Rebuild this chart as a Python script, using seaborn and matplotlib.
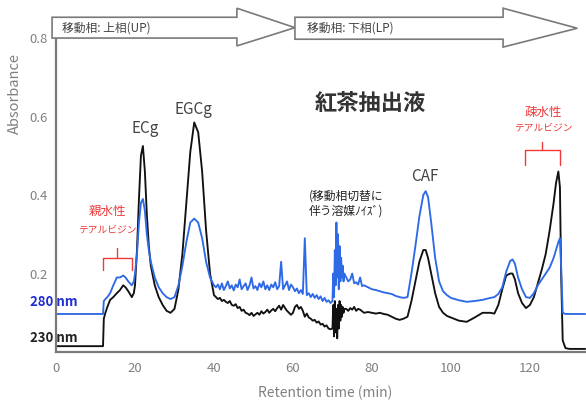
import matplotlib
matplotlib.use("Agg")
import matplotlib.pyplot as plt
import seaborn as sns
import pandas as pd
from matplotlib.patches import Polygon

# ---------------- data ----------------
time_min = [
    0, 11.9,
    12.1, 12.5, 13.0, 13.7, 14.5, 15.4, 16.2, 17.0, 17.6, 18.3, 19.2, 19.7, 20.0, 20.5, 21.0,
    21.5, 22.0, 22.5, 23.0, 23.5, 24.0, 25, 26, 27, 28, 29, 30, 31, 32, 33, 34, 35, 36, 37, 38,
    39, 40,
    40.5, 41, 41.5, 42, 42.5, 43, 43.5, 44, 44.5, 45, 45.5, 46, 46.5, 47, 47.5, 48, 48.5, 49,
    49.5, 50, 50.5, 51, 51.5, 52, 52.5, 53, 53.5, 54, 54.5, 55, 55.5, 56, 56.5, 57, 57.5, 58,
    58.5, 59, 59.5, 60, 60.5, 61, 61.5, 62, 62.5, 63, 63.5, 64, 64.5, 65, 65.5, 66, 66.5, 67,
    67.5, 68, 68.5, 69, 69.5,
    70.0, 70.2, 70.4, 70.6, 70.8, 71.0, 71.2, 71.4, 71.6, 71.8, 72.0, 72.2, 72.4, 72.6, 72.8, 73.0,
    73.5, 74, 74.5, 75, 75.5, 76, 76.5, 77, 77.5, 78, 79, 80, 81, 82, 83, 84, 85, 86, 87, 88, 89,
    90, 91, 92, 93, 93.6, 94.2, 95, 96, 97, 98, 99, 100, 102, 104, 106, 108, 110, 111, 112, 113,
    114, 115, 115.6, 116.2, 117, 118, 119, 120, 121, 122, 123, 124, 125, 126, 126.6, 127.2, 127.6,
    127.9, 128.3, 129, 130, 134,
]

abs_280nm = [
    0.097, 0.097,
    0.13, 0.135, 0.14, 0.15, 0.17, 0.19, 0.19, 0.195, 0.19, 0.18, 0.17, 0.18, 0.20, 0.25, 0.33,
    0.38, 0.39, 0.36, 0.30, 0.26, 0.23, 0.19, 0.165, 0.15, 0.14, 0.135, 0.14, 0.17, 0.22, 0.28,
    0.33, 0.34, 0.33, 0.29, 0.23, 0.19, 0.17,
    0.165, 0.172, 0.16, 0.175, 0.158, 0.168, 0.18, 0.162, 0.17, 0.157, 0.172, 0.165, 0.185, 0.16,
    0.168, 0.175, 0.158, 0.17, 0.19, 0.162, 0.168, 0.158, 0.175, 0.165, 0.18, 0.16, 0.17, 0.158,
    0.172, 0.165, 0.178, 0.16, 0.168, 0.23, 0.16, 0.17, 0.18, 0.158, 0.172, 0.165, 0.155, 0.162,
    0.15, 0.158, 0.148, 0.29, 0.145, 0.15, 0.14, 0.148, 0.138, 0.145, 0.135, 0.142, 0.13, 0.138,
    0.128, 0.132, 0.125,
    0.13, 0.20, 0.14, 0.26, 0.17, 0.33, 0.19, 0.30, 0.16, 0.27, 0.18, 0.24, 0.19, 0.22, 0.18, 0.20,
    0.19, 0.18, 0.185, 0.20, 0.175, 0.178, 0.172, 0.19, 0.168, 0.17, 0.165, 0.16, 0.158, 0.155,
    0.152, 0.15, 0.148, 0.143, 0.14, 0.138, 0.14,
    0.20, 0.27, 0.345, 0.40, 0.41, 0.395, 0.33, 0.24, 0.18, 0.155, 0.145, 0.138, 0.132, 0.128,
    0.13, 0.133, 0.138, 0.14, 0.148, 0.165, 0.205, 0.232, 0.236, 0.225, 0.19, 0.16, 0.14, 0.138,
    0.15, 0.17, 0.185, 0.20, 0.215, 0.24, 0.26, 0.28, 0.29, 0.22, 0.10, 0.097, 0.097, 0.097,
]

abs_230nm = [
    0.015, 0.015,
    0.085, 0.10, 0.115, 0.133, 0.14, 0.15, 0.158, 0.17, 0.165, 0.155, 0.14, 0.15, 0.17, 0.26, 0.39,
    0.50, 0.525, 0.46, 0.35, 0.27, 0.22, 0.17, 0.14, 0.12, 0.105, 0.10, 0.11, 0.16, 0.25, 0.38,
    0.51, 0.585, 0.56, 0.46, 0.31, 0.20, 0.145,
    0.14, 0.135, 0.138, 0.13, 0.133, 0.128, 0.125, 0.13, 0.12, 0.118, 0.122, 0.112, 0.115, 0.105,
    0.108, 0.10, 0.098, 0.094, 0.10, 0.092, 0.096, 0.10, 0.095, 0.104, 0.098, 0.102, 0.108, 0.10,
    0.106, 0.11, 0.104, 0.112, 0.118, 0.108, 0.12, 0.112, 0.105, 0.10, 0.095, 0.10, 0.115, 0.12,
    0.11, 0.115, 0.105, 0.09, 0.098, 0.088, 0.085, 0.08, 0.082, 0.075, 0.078, 0.07, 0.072, 0.065,
    0.068, 0.06, 0.058,
    0.06, 0.12, 0.04, 0.13, 0.05, 0.11, 0.035, 0.12, 0.06, 0.13, 0.08, 0.12, 0.09, 0.115, 0.10, 0.11,
    0.11, 0.105, 0.112, 0.108, 0.115, 0.105, 0.11, 0.108, 0.104, 0.10, 0.102, 0.10, 0.098, 0.10,
    0.097, 0.095, 0.09, 0.085, 0.082, 0.085, 0.09,
    0.13, 0.18, 0.23, 0.26, 0.26, 0.24, 0.20, 0.15, 0.115, 0.10, 0.092, 0.088, 0.08, 0.077, 0.088,
    0.10, 0.10, 0.098, 0.12, 0.16, 0.195, 0.20, 0.20, 0.185, 0.15, 0.125, 0.112, 0.12, 0.14, 0.175,
    0.21, 0.25, 0.31, 0.38, 0.43, 0.46, 0.42, 0.20, 0.03, 0.01, 0.008, 0.008,
]

x_ticks = [0, 20, 40, 60, 80, 100, 120]
y_ticks = [0.2, 0.4, 0.6, 0.8]
y_tick_labels = ["0.2", "0.4", "0.6", "0.8"]

# ---------------- styling ----------------
sns.set_style("white")
plt.rcParams["font.family"] = ["Noto Sans CJK JP", "DejaVu Sans"]

BLUE = "#2f6ae6"
GRAY = "#7a7a7a"
TXT = "#444444"
RED = "#f03a3a"

df = pd.concat([
    pd.DataFrame({"time": time_min, "abs": abs_230nm, "wl": "230 nm"}),
    pd.DataFrame({"time": time_min, "abs": abs_280nm, "wl": "280 nm"}),
], ignore_index=True)

fig = plt.figure(figsize=(5.86, 4.07), dpi=100)
ax = fig.add_axes([0.0956, 0.135, 0.9044, 0.7715])

sns.lineplot(data=df, x="time", y="abs", hue="wl", hue_order=["230 nm", "280 nm"],
             palette={"230 nm": "#111111", "280 nm": BLUE}, estimator=None, sort=False,
             legend=False, linewidth=1.35, ax=ax)

ax.set_xlim(0, 134.2)
ax.set_ylim(0, 0.8)
ax.set_xticks(x_ticks)
ax.set_yticks(y_ticks)
ax.set_yticklabels(y_tick_labels)
ax.set_xlabel("")
ax.set_ylabel("")
ax.tick_params(axis="both", colors=GRAY, labelcolor="#808080", labelsize=9.5,
               direction="inout", length=5, width=1)
ax.tick_params(axis="x", pad=5)
for s in ["top", "right"]:
    ax.spines[s].set_visible(False)
for s in ["left", "bottom"]:
    ax.spines[s].set_color(GRAY)
    ax.spines[s].set_linewidth(1.6)

fig.text(0.026, 1 - 93 / 407, "Absorbance", rotation=90, ha="center", va="center",
         fontsize=10.5, color="#808080")
fig.text(325 / 586, 1 - 393 / 407, "Retention time (min)", ha="center", va="center",
         fontsize=10, color="#808080")

# block arrows on top (mobile phase)
def block_arrow(x0, xh, xt, yb0, yb1, yh0, yh1):
    ym = (yb0 + yb1) / 2
    pts = [(x0, yb0), (xh, yb0), (xh, yh0), (xt, ym), (xh, yh1), (xh, yb1), (x0, yb1)]
    p = Polygon(pts, closed=True, facecolor="white", edgecolor=GRAY, linewidth=1.2,
                clip_on=False, zorder=5)
    ax.add_patch(p)

block_arrow(-1.0, 45.8, 60.5, 0.800, 0.853, 0.780, 0.876)
block_arrow(60.5, 113.2, 132.0, 0.797, 0.853, 0.777, 0.876)
ax.text(1.5, 0.826, "移動相: 上相(UP)", fontsize=8.5, color=TXT, va="center", ha="left", zorder=6)
ax.text(63.5, 0.826, "移動相: 下相(LP)", fontsize=8.5, color=TXT, va="center", ha="left", zorder=6)

# annotations
ax.text(79.5, 0.634, "紅茶抽出液", fontsize=16, fontweight="bold", color="#333333",
        ha="center", va="center")
ax.text(22.5, 0.57, "ECg", fontsize=11, color=TXT, ha="center", va="center")
ax.text(34.7, 0.617, "EGCg", fontsize=11, color=TXT, ha="center", va="center")
ax.text(93.4, 0.446, "CAF", fontsize=11, color=TXT, ha="center", va="center")
ax.text(73.5, 0.378, "(移動相切替に\n伴う溶媒ﾉｲｽﾞ)", fontsize=8.5, color="#222222",
        ha="center", va="center", linespacing=1.15)

ax.text(12.9, 0.357, "親水性", fontsize=9, color=RED, ha="center", va="center")
ax.text(12.9, 0.311, "テアルビジン", fontsize=7, color=RED, ha="center", va="center")
ax.plot([11.9, 11.9, 19.2, 19.2], [0.209, 0.24, 0.24, 0.209], color=RED, lw=1)
ax.plot([15.5, 15.5], [0.24, 0.265], color=RED, lw=1)

ax.text(123.3, 0.611, "疎水性", fontsize=9, color=RED, ha="center", va="center")
ax.text(123.3, 0.573, "テアルビジン", fontsize=7, color=RED, ha="center", va="center")
ax.plot([118.7, 118.7, 127.6, 127.6], [0.476, 0.515, 0.515, 0.476], color=RED, lw=1)
ax.plot([123.1, 123.1], [0.515, 0.535], color=RED, lw=1)

ax.text(-6.6, 0.127, "280 nm", fontsize=9.5, fontweight="bold", color="#1f2fd0",
        ha="left", va="center", clip_on=False)
ax.text(-6.6, 0.036, "230 nm", fontsize=9.5, fontweight="bold", color="#222222",
        ha="left", va="center", clip_on=False)

fig.savefig("out.png", dpi=100)
